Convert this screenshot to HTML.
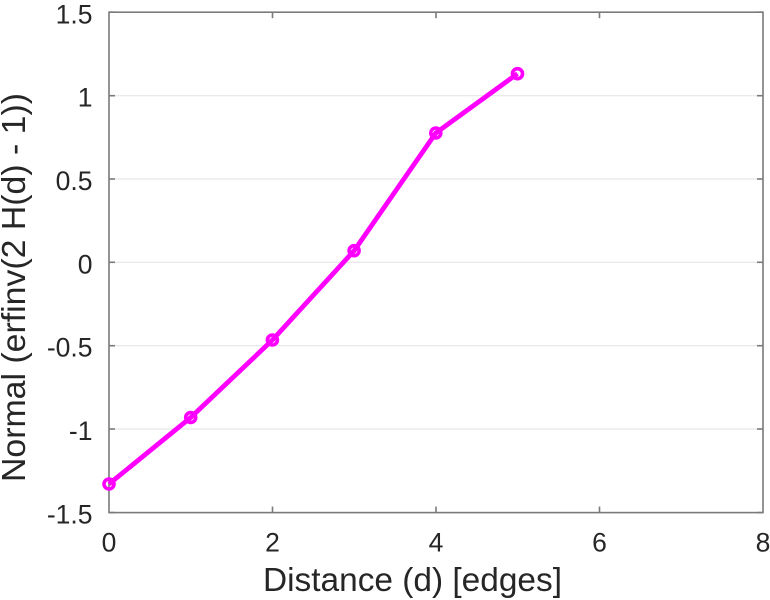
<!DOCTYPE html>
<html><head><meta charset="utf-8"><style>
html,body{margin:0;padding:0;background:#fff;}
svg{display:block;}
text{font-family:"Liberation Sans",Arial,sans-serif;fill:#262626;}
</style></head><body>
<svg width="770" height="600" viewBox="0 0 770 600" xmlns="http://www.w3.org/2000/svg">
<rect width="770" height="600" fill="#fff"/>
<!-- gridlines -->
<g stroke="#e6e6e6" stroke-width="1.2">
<line x1="109" y1="95.7" x2="763" y2="95.7"/>
<line x1="109" y1="179" x2="763" y2="179"/>
<line x1="109" y1="262.3" x2="763" y2="262.3"/>
<line x1="109" y1="345.7" x2="763" y2="345.7"/>
<line x1="109" y1="429" x2="763" y2="429"/>
</g>
<!-- axes box -->
<rect x="109" y="12.2" width="654" height="500.4" fill="none" stroke="#7a7a7a" stroke-width="1.6"/>
<!-- ticks -->
<g stroke="#7a7a7a" stroke-width="1.6">
<line x1="109" y1="12.2" x2="115" y2="12.2"/><line x1="763" y1="12.2" x2="757" y2="12.2"/>
<line x1="109" y1="95.7" x2="115" y2="95.7"/><line x1="763" y1="95.7" x2="757" y2="95.7"/>
<line x1="109" y1="179" x2="115" y2="179"/><line x1="763" y1="179" x2="757" y2="179"/>
<line x1="109" y1="262.3" x2="115" y2="262.3"/><line x1="763" y1="262.3" x2="757" y2="262.3"/>
<line x1="109" y1="345.7" x2="115" y2="345.7"/><line x1="763" y1="345.7" x2="757" y2="345.7"/>
<line x1="109" y1="429" x2="115" y2="429"/><line x1="763" y1="429" x2="757" y2="429"/>
<line x1="109" y1="512.6" x2="115" y2="512.6"/><line x1="763" y1="512.6" x2="757" y2="512.6"/>
<line x1="272.5" y1="512.6" x2="272.5" y2="506.6"/><line x1="272.5" y1="12.2" x2="272.5" y2="18.2"/>
<line x1="436" y1="512.6" x2="436" y2="506.6"/><line x1="436" y1="12.2" x2="436" y2="18.2"/>
<line x1="599.5" y1="512.6" x2="599.5" y2="506.6"/><line x1="599.5" y1="12.2" x2="599.5" y2="18.2"/>
</g>
<!-- y tick labels -->
<g font-size="26.5" text-anchor="end">
<text x="92.5" y="23.5">1.5</text>
<text x="92.5" y="106.7">1</text>
<text x="92.5" y="190">0.5</text>
<text x="92.5" y="273.3">0</text>
<text x="92.5" y="356.7">-0.5</text>
<text x="92.5" y="440">-1</text>
<text x="92.5" y="523.5">-1.5</text>
</g>
<!-- x tick labels -->
<g font-size="26.5" text-anchor="middle">
<text x="109" y="551.5">0</text>
<text x="272.5" y="551.5">2</text>
<text x="436" y="551.5">4</text>
<text x="599.5" y="551.5">6</text>
<text x="763" y="551.5">8</text>
</g>
<!-- axis labels -->
<text x="263" y="591" font-size="33.4" textLength="299" lengthAdjust="spacingAndGlyphs">Distance (d) [edges]</text>
<text transform="translate(25,482) rotate(-90)" x="0" y="0" font-size="33.4" textLength="389" lengthAdjust="spacingAndGlyphs">Normal (erfinv(2 H(d) - 1))</text>
<!-- series -->
<polyline points="109,484 190.7,417.5 272.4,340 354.1,250.7 435.8,133 517.5,73.7" fill="none" stroke="#ff00ff" stroke-width="4.8" stroke-linejoin="round"/>
<g fill="none" stroke="#ff00ff" stroke-width="3.6">
<circle cx="109" cy="484" r="5"/>
<circle cx="190.7" cy="417.5" r="5"/>
<circle cx="272.4" cy="340" r="5"/>
<circle cx="354.1" cy="250.7" r="5"/>
<circle cx="435.8" cy="133" r="5"/>
<circle cx="517.5" cy="73.7" r="5"/>
</g>
</svg>
</body></html>
